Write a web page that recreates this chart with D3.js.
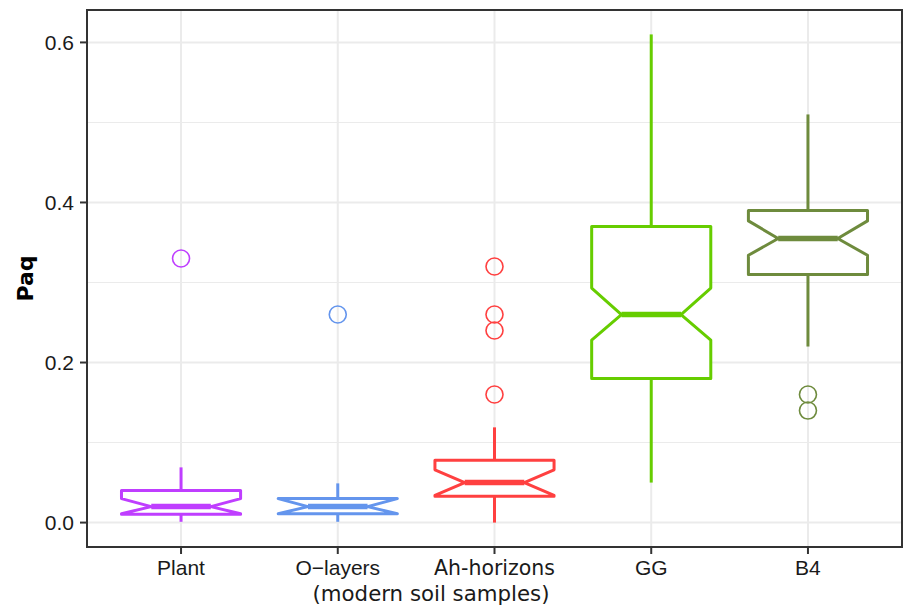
<!DOCTYPE html>
<html lang="en">
<head>
    <meta charset="UTF-8">
    <script src="https://d3js.org/d3.v7.min.js"></script>
    <style>
        body { margin: 0; background: white; }
        text { font-family: "Liberation Sans", Arial, sans-serif; }
    </style>
</head>
<body>
    <svg id="chart" width="903" height="609"></svg>
    <script>
        // box statistics
        const categories = ["Plant", "O\u2212layers", "Ah-horizons", "GG", "B4"];
        const colors     = ["#BF3EFF", "#6495ED", "#FF4040", "#66CD00", "#6E8B3D"];
        const whiskerLo  = [0.001, 0.001, 0.0, 0.05, 0.22];
        const q1         = [0.0105, 0.011, 0.033, 0.18, 0.31];
        const notchLo    = [0.011, 0.011, 0.034, 0.228, 0.334];
        const medians    = [0.02, 0.02, 0.05, 0.26, 0.355];
        const notchHi    = [0.03, 0.03, 0.066, 0.293, 0.377];
        const q3         = [0.04, 0.03, 0.078, 0.37, 0.39];
        const whiskerHi  = [0.069, 0.049, 0.119, 0.61, 0.51];
        const outliers   = [[0.33], [0.26], [0.32, 0.26, 0.24, 0.16], [], [0.16, 0.14]];
        const yTicks     = [0.0, 0.2, 0.4, 0.6];
        const yMinor     = [0.1, 0.3, 0.5];

        const width = 903, height = 609;
        const margin = { top: 10, right: 1, bottom: 62, left: 87 };

        const svg = d3.select("#chart");

        const x = d3.scalePoint()
            .domain(categories)
            .range([margin.left, width - margin.right])
            .padding(0.6);

        const y = d3.scaleLinear()
            .domain([-0.0305, 0.6405])
            .range([height - margin.bottom, margin.top]);

        const step = x.step();
        const boxW = step * 0.76;

        // grid
        const grid = svg.append("g");
        grid.selectAll(".minor").data(yMinor).enter().append("line")
            .attr("x1", margin.left).attr("x2", width - margin.right)
            .attr("y1", d => y(d)).attr("y2", d => y(d))
            .attr("stroke", "#EBEBEB").attr("stroke-width", 1.1);
        grid.selectAll(".major").data(yTicks).enter().append("line")
            .attr("x1", margin.left).attr("x2", width - margin.right)
            .attr("y1", d => y(d)).attr("y2", d => y(d))
            .attr("stroke", "#EBEBEB").attr("stroke-width", 2);
        grid.selectAll(".vgrid").data(categories).enter().append("line")
            .attr("x1", d => x(d)).attr("x2", d => x(d))
            .attr("y1", margin.top).attr("y2", height - margin.bottom)
            .attr("stroke", "#EBEBEB").attr("stroke-width", 2);

        const stats = categories.map((c, i) => ({
            cat: c, color: colors[i], wl: whiskerLo[i], q1: q1[i], nl: notchLo[i],
            med: medians[i], nh: notchHi[i], q3: q3[i], wh: whiskerHi[i], out: outliers[i]
        }));

        const boxes = svg.append("g").selectAll("g").data(stats).enter().append("g");

        // whiskers
        boxes.append("line")
            .attr("x1", d => x(d.cat)).attr("x2", d => x(d.cat))
            .attr("y1", d => y(d.q3)).attr("y2", d => y(d.wh))
            .attr("stroke", d => d.color).attr("stroke-width", 3);
        boxes.append("line")
            .attr("x1", d => x(d.cat)).attr("x2", d => x(d.cat))
            .attr("y1", d => y(d.q1)).attr("y2", d => y(d.wl))
            .attr("stroke", d => d.color).attr("stroke-width", 3);

        // notched box
        boxes.append("path")
            .attr("d", d => {
                const l = x(d.cat) - boxW / 2, r = x(d.cat) + boxW / 2, inset = boxW / 4;
                return d3.line()([
                    [l, y(d.q3)], [r, y(d.q3)], [r, y(d.nh)], [r - inset, y(d.med)],
                    [r, y(d.nl)], [r, y(d.q1)], [l, y(d.q1)], [l, y(d.nl)],
                    [l + inset, y(d.med)], [l, y(d.nh)]
                ]) + "Z";
            })
            .attr("fill", "white")
            .attr("stroke", d => d.color)
            .attr("stroke-width", 3)
            .attr("stroke-linejoin", "round");

        // median
        boxes.append("line")
            .attr("x1", d => x(d.cat) - boxW / 4).attr("x2", d => x(d.cat) + boxW / 4)
            .attr("y1", d => y(d.med)).attr("y2", d => y(d.med))
            .attr("stroke", d => d.color).attr("stroke-width", 5.5);

        // outliers
        boxes.selectAll("circle")
            .data(d => d.out.map(v => ({ v, cat: d.cat, color: d.color })))
            .enter().append("circle")
            .attr("cx", d => x(d.cat)).attr("cy", d => y(d.v))
            .attr("r", 8.5)
            .attr("fill", "none")
            .attr("stroke", d => d.color)
            .attr("stroke-width", 1.6);

        // panel border
        svg.append("rect")
            .attr("x", margin.left).attr("y", margin.top)
            .attr("width", width - margin.right - margin.left)
            .attr("height", height - margin.bottom - margin.top)
            .attr("fill", "none").attr("stroke", "#333").attr("stroke-width", 2);

        // y axis ticks + labels
        const yAxis = svg.append("g");
        yAxis.selectAll("line").data(yTicks).enter().append("line")
            .attr("x1", margin.left - 7).attr("x2", margin.left)
            .attr("y1", d => y(d)).attr("y2", d => y(d))
            .attr("stroke", "#333").attr("stroke-width", 2);
        yAxis.selectAll("text").data(yTicks).enter().append("text")
            .attr("x", margin.left - 13)
            .attr("y", d => y(d))
            .attr("dy", "0.36em")
            .attr("text-anchor", "end")
            .style("font-size", "21px")
            .style("fill", "#1a1a1a")
            .text(d => d3.format(".1f")(d));

        // x axis ticks + labels
        const xAxis = svg.append("g");
        xAxis.selectAll("line").data(categories).enter().append("line")
            .attr("x1", d => x(d)).attr("x2", d => x(d))
            .attr("y1", height - margin.bottom).attr("y2", height - margin.bottom + 7)
            .attr("stroke", "#333").attr("stroke-width", 2);
        xAxis.selectAll("text").data(categories).enter().append("text")
            .attr("x", d => x(d))
            .attr("y", 575)
            .attr("text-anchor", "middle")
            .style("font-size", "21px")
            .style("font-family", d => d === "Ah-horizons" ? "'DejaVu Sans', Verdana, sans-serif" : null)
            .style("font-size", d => d === "Ah-horizons" ? "20.5px" : "21px")
            .style("fill", "#1a1a1a")
            .text(d => d);

        svg.append("text")
            .attr("x", 431)
            .attr("y", 601)
            .attr("text-anchor", "middle")
            .style("font-family", "'DejaVu Sans', Verdana, sans-serif")
            .style("font-size", "21.3px")
            .style("fill", "#1a1a1a")
            .text("(modern soil samples)");

        // y title
        svg.append("text")
            .attr("transform", `translate(33,${(margin.top + height - margin.bottom) / 2}) rotate(-90)`)
            .attr("text-anchor", "middle")
            .style("font-family", "'DejaVu Sans', Verdana, sans-serif")
            .style("font-weight", "bold")
            .style("font-size", "22px")
            .text("Paq");
    </script>
</body>
</html>
